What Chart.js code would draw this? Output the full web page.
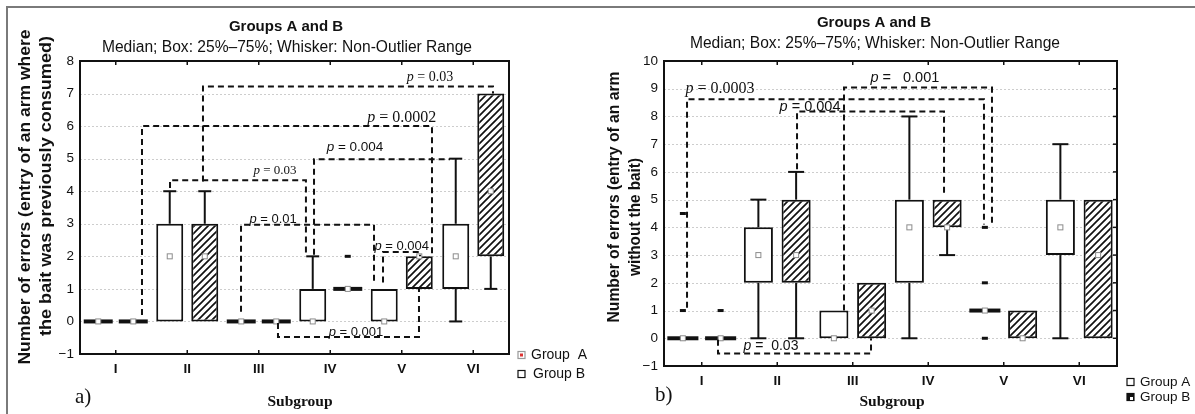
<!DOCTYPE html>
<html>
<head>
<meta charset="utf-8">
<title>Groups A and B</title>
<script src="https://cdn.jsdelivr.net/npm/chart.js@4.4.1/dist/chart.umd.min.js"></script>
<style>
  html, body { margin: 0; padding: 0; background: #fff; }
  #page { position: relative; width: 1195px; height: 414px; overflow: hidden; }
  #frame { position: absolute; left: 6px; top: 6px; width: 1300px; height: 500px;
           border-left: 2px solid #7a7a7a; border-top: 2px solid #7a7a7a; }
  canvas { position: absolute; top: 0; }
  #chartA { left: 0; }
  #chartB { left: 597px; }
</style>
</head>
<body>
<div id="page">
  <div id="frame"></div>
  <canvas id="chartA" width="597" height="414"></canvas>
  <canvas id="chartB" width="598" height="414"></canvas>
</div>
<script>
const subgroups = ['I', 'II', 'III', 'IV', 'V', 'VI'];

// a) errors: entry of an arm where the bait was previously consumed
// each entry: [min, q1, median, q3, max]
const consumedA = [[0,0,0,0,0], [0,0,2,3,4], [0,0,0,0,0], [0,0,0,1,2], [0,0,0,1,1], [0,1,2,3,5]];
const consumedB = [[0,0,0,0,0], [0,0,2,3,4], [0,0,0,0,0], [1,1,1,1,1], [1,1,2,2,2], [1,2,4,7,7]];
const consumedOutA = [[], [], [], [], [], []];
const consumedOutB = [[], [], [], [2], [], []];
// brackets: [x from, y from, level, x to, y to] (x in subgroup units)
const consumedBrackets = [
  [0.367, 0.2, 6, 4.423, 2],
  [1.22, 4.3, 7.22, 5.276, 7],
  [0.759, 4.1, 4.34, 2.66, 2.05],
  [2.773, 2.05, 4.98, 4.675, 4.98],
  [1.752, 0.3, 2.97, 3.612, 1.2],
  [3.738, 1.2, 2.13, 4.255, 2],
  [2.269, -0.05, -0.48, 4.241, 1]
];
const consumedP = ['p = 0.0002', 'p = 0.03', 'p = 0.03', 'p = 0.004', 'p = 0.01', 'p = 0.004', 'p = 0.001'];

// b) errors: entry of an arm without the bait
const noBaitA = [[0,0,0,0,0], [0,2,3,4,5], [0,0,0,1,1], [0,2,4,5,8], [1,1,1,1,1], [0,3,4,5,7]];
const noBaitB = [[0,0,0,0,0], [0,2,3,5,6], [0,0,1,2,2], [3,4,4,5,5], [0,0,0,1,1], [0,0,3,5,5]];
const noBaitOutA = [[1, 4.5], [], [], [], [0, 2, 4], []];
const noBaitOutB = [[1], [], [], [], [], []];
const noBaitBrackets = [
  [-0.195, 1.1, 8.62, 3.738, 4.1],
  [1.262, 6.1, 8.18, 3.209, 5.1],
  [1.884, 1.0, 9.04, 3.844, 4.1],
  [0.215, -0.05, -0.55, 2.242, 0]
];
const noBaitP = ['p = 0.0003', 'p = 0.004', 'p =   0.001', 'p =  0.03'];

const SANS = '"Liberation Sans", Arial, Helvetica, sans-serif';
const SERIF = '"Liberation Serif", "Times New Roman", serif';

// where the p labels sit, [x, y] in chart units, and their fonts
const consumedPPos = [[4.0, 6.27], [4.395, 7.5], [2.227, 4.64], [3.346, 5.35], [2.2, 3.14], [4.0, 2.31], [3.36, -0.33]];
const consumedPFont = [[SERIF, 16], [SERIF, 14], [SERIF, 13], [SANS, 13.5], [SANS, 13], [SANS, 13], [SANS, 13]];
const noBaitPPos = [[0.242, 8.98], [1.434, 8.33], [2.69, 9.38], [0.917, -0.3]];
const noBaitPFont = [[SERIF, 16], [SANS, 14.5], [SANS, 14.5], [SANS, 14]];

// Helper: diagonal hatch for group B
function hatch(ctx) {
  const c = document.createElement('canvas');
  c.width = 7; c.height = 7;
  const g = c.getContext('2d');
  g.fillStyle = '#fff';
  g.fillRect(0, 0, 7, 7);
  g.strokeStyle = '#111';
  g.lineWidth = 1.7;
  g.beginPath();
  g.moveTo(-1, 8); g.lineTo(8, -1);
  g.moveTo(-1, 1); g.lineTo(1, -1);
  g.moveTo(6, 8); g.lineTo(8, 6);
  g.stroke();
  return ctx.createPattern(c, 'repeat');
}

// Helper: "p = ..." with an italic p, centred on x
function pLabel(ctx, text, x, y, family, size) {
  const p = text.slice(0, 1), rest = text.slice(1);
  ctx.font = 'italic ' + size + 'px ' + family;
  const w1 = ctx.measureText(p).width;
  ctx.font = size + 'px ' + family;
  const w2 = ctx.measureText(rest).width;
  const x0 = x - (w1 + w2) / 2;
  ctx.textAlign = 'left';
  ctx.textBaseline = 'middle';
  ctx.font = 'italic ' + size + 'px ' + family;
  ctx.fillText(p, x0, y);
  ctx.font = size + 'px ' + family;
  ctx.fillText(rest, x0 + w1, y);
}

// Helper: rotated axis title line, stretched to a given length
function vText(ctx, text, x, y, len, font) {
  ctx.save();
  ctx.font = font;
  const w = ctx.measureText(text).width;
  ctx.translate(x, y);
  ctx.rotate(-Math.PI / 2);
  ctx.scale(len / w, 1);
  ctx.textAlign = 'center';
  ctx.textBaseline = 'middle';
  ctx.fillText(text, 0, 0);
  ctx.restore();
}

const boxPlot = {
  id: 'boxPlot',
  beforeDatasetsDraw(chart, args, o) {
    const { ctx, chartArea: a, scales: { y } } = chart;
    ctx.save();
    ctx.strokeStyle = '#cdcdcd';
    ctx.lineWidth = 1;
    ctx.setLineDash([2, 2]);
    y.ticks.forEach(t => {
      const py = Math.round(y.getPixelForValue(t.value)) + 0.5;
      ctx.beginPath(); ctx.moveTo(a.left, py); ctx.lineTo(a.right, py); ctx.stroke();
    });
    ctx.restore();
  },
  afterDatasetsDraw(chart, args, o) {
    const { ctx, chartArea: a, scales: { x, y } } = chart;
    ctx.save();
    [o.statsA, o.statsB].forEach((stats, d) => {
      const meta = chart.getDatasetMeta(d);
      const outs = d === 0 ? o.outA : o.outB;
      stats.forEach((s, i) => {
        const bar = meta.data[i];
        const cx = bar.x, half = bar.width / 2;
        ctx.strokeStyle = '#111';
        ctx.lineWidth = 2;
        const whisker = (v0, v1) => {
          const p1 = y.getPixelForValue(v1);
          ctx.beginPath(); ctx.moveTo(cx, y.getPixelForValue(v0)); ctx.lineTo(cx, p1); ctx.stroke();
          ctx.beginPath(); ctx.moveTo(cx - o.cap / 2, p1); ctx.lineTo(cx + o.cap / 2, p1); ctx.stroke();
        };
        if (s[4] > s[3]) whisker(s[3], s[4]);
        if (s[0] < s[1]) whisker(s[1], s[0]);
        if (s[3] === s[1]) {
          const py = y.getPixelForValue(s[1]);
          ctx.lineWidth = 4;
          ctx.beginPath(); ctx.moveTo(cx - half - 1, py); ctx.lineTo(cx + half + 1, py); ctx.stroke();
        }
        ctx.fillStyle = '#111';
        outs[i].forEach(v => {
          const py = y.getPixelForValue(v);
          ctx.fillRect(cx - 3, py - 1.5, 6, 3);
        });
        const my = y.getPixelForValue(s[2]);
        ctx.fillStyle = '#fff';
        ctx.strokeStyle = '#8c8c8c';
        ctx.lineWidth = 1;
        ctx.fillRect(cx - 2.5, my - 2.5, 5, 5);
        ctx.strokeRect(cx - 2.5, my - 2.5, 5, 5);
      });
    });

    // plot frame and tick marks
    ctx.strokeStyle = '#111';
    ctx.lineWidth = 2;
    ctx.strokeRect(a.left, a.top, a.right - a.left, a.bottom - a.top);
    ctx.lineWidth = 1.5;
    subgroups.forEach((lab, i) => {
      const px = x.getPixelForValue(i);
      ctx.beginPath();
      ctx.moveTo(px, a.bottom); ctx.lineTo(px, a.bottom - 4);
      ctx.moveTo(px, a.top); ctx.lineTo(px, a.top + 4);
      ctx.stroke();
    });
    if (o.rightTicks) {
      y.ticks.forEach(t => {
        const py = y.getPixelForValue(t.value);
        ctx.beginPath(); ctx.moveTo(a.right, py); ctx.lineTo(a.right - 4, py); ctx.stroke();
      });
    }

    // significance brackets
    ctx.lineWidth = 2;
    ctx.setLineDash([6, 4]);
    o.brackets.forEach(b => {
      const x1 = x.getPixelForValue(b[0]), x2 = x.getPixelForValue(b[3]);
      const lv = y.getPixelForValue(b[2]);
      ctx.beginPath();
      ctx.moveTo(x1, y.getPixelForValue(b[1]));
      ctx.lineTo(x1, lv);
      ctx.lineTo(x2, lv);
      ctx.lineTo(x2, y.getPixelForValue(b[4]));
      ctx.stroke();
    });
    ctx.setLineDash([]);
    ctx.fillStyle = '#111';
    o.pTexts.forEach((t, k) => {
      const pos = o.pPos[k], f = o.pFont[k];
      pLabel(ctx, t, x.getPixelForValue(pos[0]), y.getPixelForValue(pos[1]), f[0], f[1]);
    });
    ctx.restore();
  },
  afterDraw(chart, args, o) {
    const ctx = chart.ctx;
    ctx.save();
    ctx.fillStyle = '#111';
    ctx.textAlign = 'center';
    ctx.textBaseline = 'middle';
    ctx.font = 'bold 15px ' + SANS;
    ctx.fillText('Groups A and B', o.titleX, o.titleY);
    ctx.font = '15.6px ' + SANS;
    ctx.fillText('Median; Box: 25%\u201375%; Whisker: Non-Outlier Range', o.titleX + 1, o.subY);

    o.yTitle.forEach(l => vText(ctx, l[0], l[1], l[2], l[3], 'bold 16px ' + SANS));

    ctx.textAlign = 'center';
    ctx.font = 'bold 15.5px ' + SERIF;
    ctx.fillText('Subgroup', o.xTitleX, 402);
    ctx.textAlign = 'left';
    ctx.font = '21px ' + SERIF;
    ctx.fillText(o.panel, o.panelX, o.panelY);

    // legend
    const lg = o.legend;
    ctx.font = lg.size + 'px ' + SANS;
    ctx.fillText(lg.textA, lg.x + 13, lg.yA);
    ctx.fillText('Group B', lg.x + 13 + lg.shiftB, lg.yB);
    ctx.lineWidth = 1.2;
    ctx.strokeStyle = lg.iconA;
    ctx.fillStyle = '#fff';
    ctx.fillRect(lg.x, lg.yA - 3.5, 7, 7);
    ctx.strokeRect(lg.x, lg.yA - 3.5, 7, 7);
    ctx.fillStyle = lg.innerA;
    ctx.fillRect(lg.x + 2, lg.yA - 1.5, 3, 3);
    ctx.strokeStyle = '#111';
    ctx.fillStyle = lg.fillB;
    ctx.fillRect(lg.x, lg.yB - 3.5, 7, 7);
    ctx.strokeRect(lg.x, lg.yB - 3.5, 7, 7);
    ctx.fillStyle = '#fff';
    ctx.fillRect(lg.x + 3, lg.yB, 3, 3);
    ctx.restore();
  }
};

function makePanel(id, cfg) {
  const ctx = document.getElementById(id).getContext('2d');
  return new Chart(ctx, {
    type: 'bar',
    data: {
      labels: subgroups,
      datasets: [
        { label: 'Group A', data: cfg.statsA.map(s => [s[1], s[3]]),
          backgroundColor: '#fff', borderColor: '#111', borderWidth: 2, borderSkipped: false,
          categoryPercentage: cfg.catPct, barPercentage: cfg.barPct },
        { label: 'Group B', data: cfg.statsB.map(s => [s[1], s[3]]),
          backgroundColor: hatch(ctx), borderColor: '#111', borderWidth: 2, borderSkipped: false,
          categoryPercentage: cfg.catPct, barPercentage: cfg.barPct }
      ]
    },
    options: {
      responsive: false,
      animation: false,
      events: [],
      layout: { padding: cfg.padding },
      plugins: {
        legend: { display: false },
        tooltip: { enabled: false },
        boxPlot: cfg.decor
      },
      scales: {
        x: {
          ticks: { color: '#111', font: { family: SANS, size: 13.5, weight: 'bold' }, padding: 7 },
          grid: { display: false, drawTicks: false },
          border: { display: false },
          afterFit: s => { s.height = cfg.xHeight; }
        },
        y: {
          min: cfg.yMin,
          max: cfg.yMax,
          ticks: {
            stepSize: 1, color: '#111', padding: 6,
            font: { family: SANS, size: 13.5 },
            callback: v => v < 0 ? '\u2212' + Math.abs(v) : String(v)
          },
          grid: { display: false, drawTicks: false },
          border: { display: false },
          afterFit: s => { s.width = cfg.yWidth; }
        }
      }
    },
    plugins: [boxPlot]
  });
}

makePanel('chartA', {
  statsA: consumedA, statsB: consumedB, yMin: -1, yMax: 8,
  padding: { top: 61, right: 88, left: 0, bottom: 0 }, yWidth: 80, xHeight: 60,
  catPct: 0.98, barPct: 0.77,
  decor: {
    statsA: consumedA, statsB: consumedB, outA: consumedOutA, outB: consumedOutB, cap: 13,
    brackets: consumedBrackets, pTexts: consumedP, pPos: consumedPPos, pFont: consumedPFont,
    rightTicks: false, titleX: 286, titleY: 27, subY: 48,
    yTitle: [['Number of errors (entry of an arm where', 26, 197, 335],
             ['the bait was previously consumed)', 47, 186, 300]],
    xTitleX: 300, panel: 'a)', panelX: 75, panelY: 397,
    legend: { x: 518, yA: 355, yB: 374, size: 14, textA: 'Group  A', shiftB: 2,
              iconA: '#999', innerA: '#d33', fillB: '#fff' }
  }
});

makePanel('chartB', {
  statsA: noBaitA, statsB: noBaitB, yMin: -1, yMax: 10,
  padding: { top: 61, right: 78, left: 0, bottom: 0 }, yWidth: 67, xHeight: 48,
  catPct: 1.0, barPct: 0.77,
  decor: {
    statsA: noBaitA, statsB: noBaitB, outA: noBaitOutA, outB: noBaitOutB, cap: 16,
    brackets: noBaitBrackets, pTexts: noBaitP, pPos: noBaitPPos, pFont: noBaitPFont,
    rightTicks: true, titleX: 277, titleY: 22.5, subY: 44,
    yTitle: [['Number of errors (entry of an arm', 18, 197, 251],
             ['without the bait)', 39, 217, 118]],
    xTitleX: 295, panel: 'b)', panelX: 58, panelY: 395,
    legend: { x: 530, yA: 382, yB: 397, size: 13.5, textA: 'Group A', shiftB: 0,
              iconA: '#111', innerA: '#fff', fillB: '#111' }
  }
});
</script>
</body>
</html>
